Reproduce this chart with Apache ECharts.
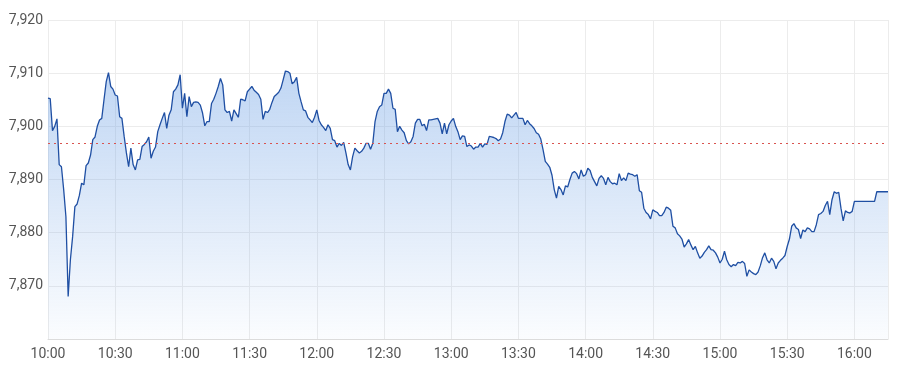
<!DOCTYPE html>
<html>
<head>
<meta charset="utf-8">
<script src="https://cdn.jsdelivr.net/npm/echarts@6/dist/echarts.min.js"></script>
<style>html,body{margin:0;padding:0;background:#fff;}#c{width:900px;height:375px;}</style>
</head>
<body>
<div id="c"></div>
<script>
// Session opens at 10:00; one price per minute (index = minutes after open)
const sessionStart = [10, 0];
const prices = [
  7905.3, 7905.2, 7899.2, 7900.0, 7901.4, 7892.8, 7892.4, 7888.1, 7883.0, 7868.0,
  7874.9, 7879.3, 7884.9, 7885.4, 7887.0, 7889.3, 7889.0, 7892.6, 7893.1, 7894.6,
  7897.5, 7898.0, 7900.0, 7901.2, 7901.5, 7905.0, 7908.4, 7910.1, 7907.5, 7907.0,
  7905.9, 7905.7, 7901.8, 7901.5, 7898.1, 7895.0, 7892.4, 7895.9, 7892.8, 7891.8,
  7893.7, 7893.8, 7896.2, 7896.6, 7897.1, 7898.0, 7894.0, 7895.3, 7896.1, 7899.0,
  7900.3, 7901.5, 7902.6, 7899.6, 7902.1, 7903.1, 7906.5, 7907.0, 7907.8, 7909.7,
  7903.4, 7906.2, 7901.8, 7905.6, 7903.7, 7904.5, 7904.6, 7904.5, 7904.0, 7902.5,
  7900.1, 7900.9, 7900.9, 7904.3, 7905.1, 7906.2, 7907.5, 7909.0, 7907.8, 7903.1,
  7902.6, 7902.8, 7901.0, 7903.1, 7902.4, 7901.7, 7905.1, 7905.0, 7904.8, 7906.5,
  7907.0, 7907.5, 7906.8, 7906.4, 7906.0, 7905.1, 7901.3, 7902.8, 7902.6, 7903.2,
  7904.5, 7905.6, 7906.0, 7906.4, 7907.2, 7908.8, 7910.4, 7910.3, 7910.0, 7908.0,
  7908.4, 7909.2, 7906.2, 7904.6, 7903.1, 7902.9, 7901.7, 7901.2, 7900.7, 7901.7,
  7903.1, 7901.1, 7900.3, 7899.8, 7899.2, 7900.3, 7899.6, 7897.5, 7897.3, 7896.1,
  7896.8, 7896.4, 7897.0, 7895.0, 7892.8, 7891.8, 7894.3, 7895.9, 7895.4, 7895.0,
  7895.3, 7895.9, 7896.8, 7896.8, 7895.7, 7896.8, 7900.9, 7902.8, 7903.7, 7904.0,
  7906.2, 7906.2, 7907.0, 7906.2, 7903.4, 7903.2, 7899.0, 7900.0, 7899.3, 7898.8,
  7897.3, 7896.7, 7897.1, 7898.1, 7900.6, 7901.3, 7901.3, 7900.1, 7900.4, 7899.2,
  7901.2, 7901.2, 7901.3, 7901.4, 7901.5, 7900.6, 7898.6, 7900.6, 7898.6, 7900.3,
  7901.0, 7901.5, 7900.0, 7899.0, 7897.5, 7898.2, 7898.1, 7896.2, 7896.5, 7896.3,
  7895.7, 7896.1, 7896.1, 7896.8, 7896.1, 7896.7, 7896.6, 7898.1, 7898.0, 7897.9,
  7897.7, 7897.3, 7897.6, 7898.8, 7900.9, 7902.3, 7902.1, 7901.6, 7902.1, 7902.6,
  7901.5, 7901.5, 7901.5, 7900.3, 7901.1, 7900.5, 7900.1, 7899.6, 7898.8, 7898.5,
  7897.6, 7895.6, 7893.4, 7892.9, 7892.3, 7890.8, 7888.1, 7886.5, 7888.7, 7888.1,
  7887.1, 7888.8, 7888.6, 7890.0, 7891.2, 7891.5, 7891.1, 7890.1, 7891.8, 7890.6,
  7890.9, 7892.1, 7891.7, 7890.4, 7889.6, 7888.8, 7890.2, 7890.7, 7890.2, 7889.0,
  7890.4, 7889.6, 7889.2, 7889.3, 7889.0, 7891.1, 7889.8, 7890.3, 7889.8, 7891.2,
  7891.0, 7890.9, 7890.6, 7890.9, 7887.9, 7887.6, 7884.6, 7883.8, 7883.4, 7882.6,
  7884.3, 7884.0, 7883.8, 7883.2, 7883.2, 7883.8, 7884.8, 7884.6, 7884.2, 7881.2,
  7880.9, 7879.8, 7879.4, 7878.8, 7877.3, 7877.9, 7878.7, 7877.7, 7876.8, 7877.4,
  7876.2, 7875.2, 7875.6, 7876.3, 7876.8, 7877.5, 7876.8, 7876.7, 7876.2, 7875.4,
  7874.3, 7875.0, 7876.5, 7874.9, 7874.0, 7873.6, 7874.0, 7873.8, 7874.4, 7874.3,
  7874.6, 7874.2, 7871.8, 7873.0, 7872.6, 7872.3, 7872.1, 7872.6, 7873.8, 7875.3,
  7876.2, 7874.9, 7874.3, 7875.2, 7874.6, 7873.2, 7874.3, 7874.8, 7875.2, 7875.7,
  7877.4, 7878.8, 7881.2, 7881.7, 7880.9, 7880.6, 7878.9, 7880.5, 7880.2, 7880.9,
  7880.7, 7880.2, 7880.2, 7881.5, 7883.4, 7883.6, 7884.0, 7885.1, 7885.9, 7883.4,
  7886.2, 7887.7, 7887.4, 7887.6, 7884.6, 7882.2, 7884.1, 7883.8, 7883.7, 7884.0,
  7885.9, 7885.9, 7885.9, 7885.9, 7885.9, 7885.9, 7885.9, 7885.9, 7885.9, 7885.9,
  7887.7, 7887.7, 7887.7, 7887.7, 7887.7, 7887.7
];
const previousClose = 7896.8;
const yRange = [7860, 7920];
const yStep = 10;
const xRange = [0, 375];   // minutes after 10:00 (10:00 - 16:15)
const xStep = 30;

function fmtTime(m) {
  const tot = sessionStart[0] * 60 + sessionStart[1] + m;
  const h = Math.floor(tot / 60), mm = tot % 60;
  return h + ':' + (mm < 10 ? '0' : '') + mm;
}

const seriesData = prices.map((p, i) => [i, p]);

const chart = echarts.init(document.getElementById('c'), null, {renderer: 'canvas'});
chart.setOption({
  animation: false,
  grid: {left: 48, right: 12, top: 20, bottom: 36, containLabel: false},
  xAxis: {
    type: 'value',
    min: xRange[0], max: xRange[1], interval: xStep,
    axisLine: {show: true, lineStyle: {color: '#dcdcdc', width: 1}},
    axisTick: {show: false},
    splitLine: {show: true, lineStyle: {color: '#ececec', width: 1}},
    axisLabel: {
      showMaxLabel: false,
      color: '#555', fontSize: 14, fontFamily: 'Roboto', margin: 8,
      formatter: v => (v % xStep === 0 ? fmtTime(v) : '')
    }
  },
  yAxis: {
    type: 'value',
    min: yRange[0], max: yRange[1], interval: yStep,
    axisLine: {show: false},
    axisTick: {show: false},
    splitLine: {show: true, lineStyle: {color: '#ececec', width: 1}},
    axisLabel: {
      showMinLabel: false,
      color: '#555', fontSize: 14, fontFamily: 'Roboto', margin: 5,
      formatter: v => v.toLocaleString('en-US')
    }
  },
  series: [{
    type: 'line',
    data: seriesData,
    showSymbol: false,
    symbol: 'none',
    lineStyle: {color: '#1f4fa3', width: 1.3},
    areaStyle: {
      color: new echarts.graphic.LinearGradient(0, 0, 0, 1, [
        {offset: 0, color: 'rgba(105,158,228,0.6)'},
        {offset: 1, color: 'rgba(105,158,228,0.04)'}
      ])
    },
    markLine: {
      silent: true,
      symbol: 'none',
      label: {show: false},
      lineStyle: {color: '#d9534f', type: [2, 4], width: 1},
      data: [{yAxis: previousClose}]
    }
  }]
});
</script>
</body>
</html>
